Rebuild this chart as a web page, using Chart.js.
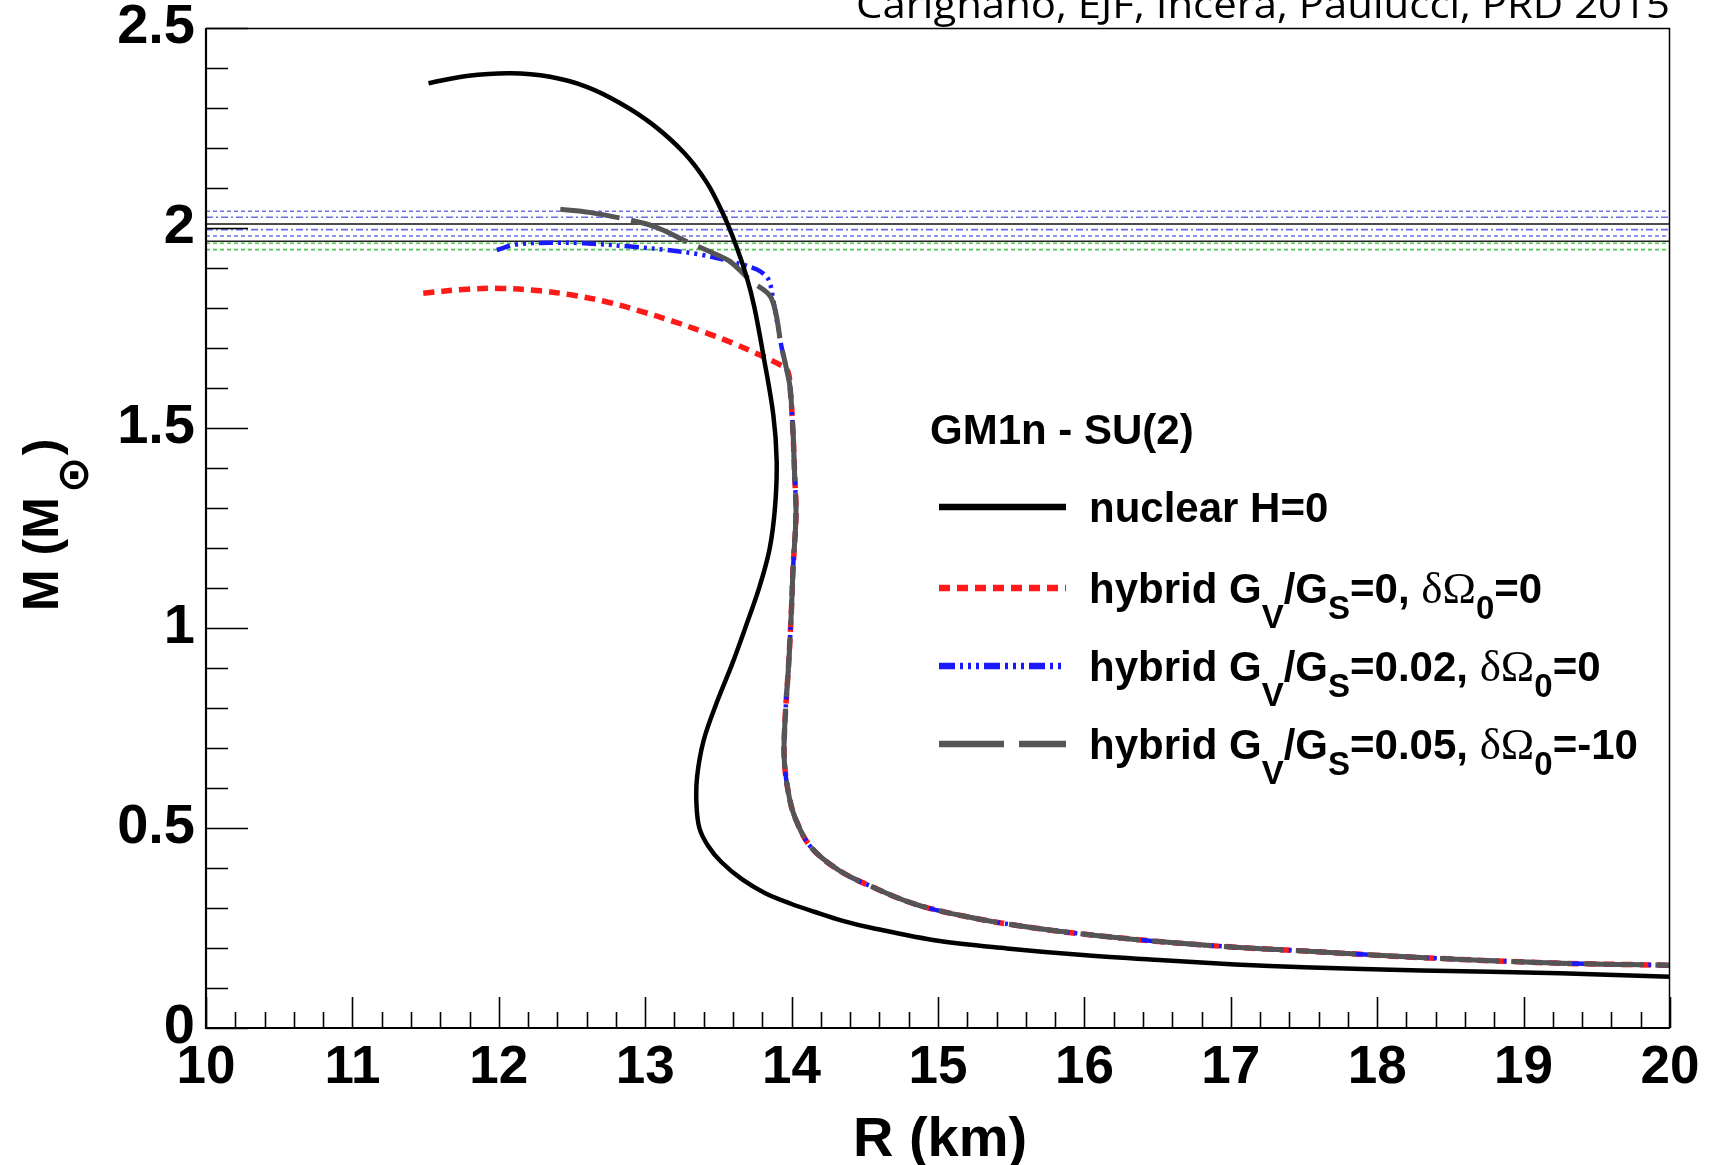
<!DOCTYPE html>
<html><head><meta charset="utf-8">
<script src="https://cdn.jsdelivr.net/npm/chart.js@4.4.1/dist/chart.umd.min.js"></script>
<style>html,body{margin:0;padding:0;background:#fff;overflow:hidden}</style>
</head><body>
<canvas id="c" width="1716" height="1165"></canvas>
<script>
// ---------------- data ----------------
const xMajorTicks = [10, 11, 12, 13, 14, 15, 16, 17, 18, 19, 20];
const yMajorTicks = [0, 0.5, 1, 1.5, 2, 2.5];

const nuclearR = [11.52, 11.78, 12.08, 12.35, 12.60, 12.83, 13.05, 13.265, 13.42, 13.53, 13.615, 13.693, 13.745, 13.81, 13.875, 13.898, 13.887, 13.85, 13.78, 13.69, 13.595, 13.49, 13.40, 13.355, 13.35, 13.37, 13.43, 13.52, 13.66, 13.82, 14.0, 14.16, 14.35, 14.55, 15.0, 15.47, 15.99, 16.51, 17.03, 17.5, 18.3, 19.25, 20.0];
const nuclearM = [2.362, 2.380, 2.387, 2.378, 2.353, 2.312, 2.259, 2.188, 2.114, 2.037, 1.962, 1.878, 1.803, 1.676, 1.533, 1.418, 1.303, 1.198, 1.102, 1.007, 0.911, 0.815, 0.720, 0.630, 0.560, 0.500, 0.455, 0.415, 0.372, 0.337, 0.310, 0.290, 0.268, 0.250, 0.218, 0.199, 0.1825, 0.170, 0.159, 0.152, 0.144, 0.137, 0.128];

const hybridG0R = [11.484, 11.78, 12.01, 12.28, 12.51, 12.74, 12.96, 13.18, 13.40, 13.60, 13.78, 13.90, 13.97, 13.99, 14.01, 14.02, 14.03, 14.01, 14.0, 13.98, 13.955, 13.95, 13.985, 14.03, 14.13, 14.32, 14.55, 14.84, 15.2, 15.6, 15.99, 16.51, 17.03, 17.47, 18.3, 19.25, 20.0];
const hybridG0M = [1.837, 1.847, 1.849, 1.843, 1.832, 1.815, 1.793, 1.768, 1.740, 1.712, 1.683, 1.662, 1.645, 1.60, 1.485, 1.39, 1.284, 1.15, 1.055, 0.911, 0.768, 0.67, 0.575, 0.52, 0.453, 0.395, 0.353, 0.31, 0.278, 0.253, 0.235, 0.216, 0.202, 0.193, 0.176, 0.162, 0.157];

const hybridG002R = [11.986, 12.12, 12.35, 12.58, 12.92, 13.15, 13.37, 13.60, 13.76, 13.83, 13.855, 13.87, 13.93, 13.965, 13.99, 14.01, 14.02, 14.03, 14.01, 14.0, 13.98, 13.955, 13.95, 13.985, 14.03, 14.13, 14.32, 14.55, 14.84, 15.2, 15.6, 15.99, 16.51, 17.03, 17.47, 18.3, 19.25, 20.0];
const hybridG002M = [1.945, 1.959, 1.963, 1.962, 1.953, 1.945, 1.934, 1.915, 1.897, 1.878, 1.858, 1.830, 1.705, 1.648, 1.60, 1.485, 1.39, 1.284, 1.15, 1.055, 0.911, 0.768, 0.67, 0.575, 0.52, 0.453, 0.395, 0.353, 0.31, 0.278, 0.253, 0.235, 0.216, 0.202, 0.193, 0.176, 0.162, 0.157];

const hybridG005R = [12.42, 12.62, 12.99, 13.12, 13.26, 13.44, 13.58, 13.72, 13.86, 13.93, 13.965, 13.99, 14.01, 14.02, 14.03, 14.01, 14.0, 13.98, 13.955, 13.95, 13.985, 14.03, 14.13, 14.32, 14.55, 14.84, 15.2, 15.6, 15.99, 16.51, 17.03, 17.47, 18.3, 19.25, 20.0];
const hybridG005M = [2.047, 2.039, 2.012, 1.995, 1.970, 1.941, 1.916, 1.868, 1.826, 1.705, 1.648, 1.60, 1.485, 1.39, 1.284, 1.15, 1.055, 0.911, 0.768, 0.67, 0.575, 0.52, 0.453, 0.395, 0.353, 0.31, 0.278, 0.253, 0.235, 0.216, 0.202, 0.193, 0.176, 0.162, 0.157];

// horizontal observational mass bands (2 M_sun pulsars)
const bandM = [2.042, 2.027, 2.010, 1.996, 1.980, 1.962, 1.967, 1.946];
const bandR = [10, 20];

const citation = 'Carignano, EJF, Incera, Paulucci, PRD 2015';
const legendTitle = 'GM1n - SU(2)';
const legendEntries = [
  [{t: 'nuclear H=0'}],
  [{t: 'hybrid G'}, {t: 'V', s: 2}, {t: '/G'}, {t: 'S', s: 1}, {t: '=0, '}, {t: 'δΩ', g: 1}, {t: '0', s: 1}, {t: '=0'}],
  [{t: 'hybrid G'}, {t: 'V', s: 2}, {t: '/G'}, {t: 'S', s: 1}, {t: '=0.02, '}, {t: 'δΩ', g: 1}, {t: '0', s: 1}, {t: '=0'}],
  [{t: 'hybrid G'}, {t: 'V', s: 2}, {t: '/G'}, {t: 'S', s: 1}, {t: '=0.05, '}, {t: 'δΩ', g: 1}, {t: '0', s: 1}, {t: '=-10'}]
];
const xTitle = 'R (km)';

// ---------------- styles ----------------
const BLUE = 'rgba(60,60,225,0.75)';
const GREEN = 'rgba(50,190,50,0.85)';
const bandStyles = [
  {c: BLUE, d: [4, 3], w: 1.6},
  {c: BLUE, d: [7, 3, 2, 3], w: 1.6},
  {c: '#111', d: [], w: 1.6},
  {c: BLUE, d: [7, 3, 2, 3], w: 1.6},
  {c: BLUE, d: [4, 3], w: 1.6},
  {c: GREEN, d: [4, 3], w: 1.6},
  {c: '#222', d: [], w: 1.6},
  {c: GREEN, d: [4, 3], w: 1.6}
];
const curveStyles = [
  {c: '#000000', d: [], w: 4.5},
  {c: '#ff1a1a', d: [11, 7], w: 5.5},
  {c: '#1a1aff', d: [14, 5, 3, 5, 3, 5, 3, 5], w: 4.5},
  {c: '#555555', d: [60, 12], w: 5}
];

function pts(xs, ys) { return xs.map((x, i) => ({x: x, y: ys[i]})); }

const datasets = [];
const curves = [[nuclearR, nuclearM], [hybridG0R, hybridG0M], [hybridG002R, hybridG002M], [hybridG005R, hybridG005M]];
const curveOrder = [0, 3, 2, 1];
curves.forEach((cv, i) => {
  const st = curveStyles[i];
  datasets.push({
    data: pts(cv[0], cv[1]), showLine: true, borderColor: st.c, borderWidth: st.w,
    borderDash: st.d, pointRadius: 0, tension: 0.35, order: curveOrder[i], borderCapStyle: 'butt'
  });
});
bandM.forEach((m, i) => {
  const st = bandStyles[i];
  datasets.push({
    data: pts(bandR, [m, m]), showLine: true, borderColor: st.c, borderWidth: st.w,
    borderDash: st.d, pointRadius: 0, tension: 0, order: 10 + i
  });
});

function isMajor(v, list) { return list.some(t => Math.abs(t - v) < 1e-6); }

const AREA = {left: 206, right: 1670, top: 28, bottom: 1028};

function drawRich(ctx, parts, x, y, size) {
  let cx = x;
  for (const p of parts) {
    let fs = size, dy = 0;
    if (p.s) { fs = size * 0.78; dy = p.s === 2 ? size * 0.6 : size * 0.38; }
    ctx.font = p.g ? `${Math.round(fs * 1.08)}px 'Liberation Serif'` : `bold ${Math.round(fs)}px 'Liberation Sans'`;
    ctx.fillText(p.t, cx, y + dy);
    cx += ctx.measureText(p.t).width;
  }
  return cx;
}

const decor = {
  id: 'decor',
  afterDraw(chart) {
    const ctx = chart.ctx;
    const xs = chart.scales.x, ys = chart.scales.y;
    const a = chart.chartArea;
    ctx.save();
    ctx.strokeStyle = '#000';
    ctx.fillStyle = '#000';
    // ticks
    ctx.lineWidth = 1.6;
    ctx.beginPath();
    ys.ticks.forEach(t => {
      const py = Math.round(ys.getPixelForValue(t.value)) + 0.5;
      const len = isMajor(t.value, yMajorTicks) ? 42 : 22;
      ctx.moveTo(a.left, py); ctx.lineTo(a.left + len, py);
    });
    xs.ticks.forEach(t => {
      const px = Math.round(xs.getPixelForValue(t.value)) + 0.5;
      const len = isMajor(t.value, xMajorTicks) ? 31 : 16;
      ctx.moveTo(px, a.bottom); ctx.lineTo(px, a.bottom - len);
    });
    ctx.stroke();
    // frame
    ctx.lineWidth = 1.5;
    ctx.beginPath();
    ctx.moveTo(a.left, a.top + 0.5); ctx.lineTo(a.right - 0.5, a.top + 0.5); ctx.lineTo(a.right - 0.5, a.bottom);
    ctx.stroke();
    ctx.lineWidth = 2.2;
    ctx.beginPath();
    ctx.moveTo(a.left, a.top); ctx.lineTo(a.left, a.bottom); ctx.lineTo(a.right, a.bottom);
    ctx.stroke();

    // x tick labels
    ctx.font = "bold 53px 'Liberation Sans'";
    ctx.textAlign = 'center';
    ctx.textBaseline = 'alphabetic';
    xMajorTicks.forEach(v => {
      ctx.fillText(String(v), xs.getPixelForValue(v), a.bottom + 55);
    });

    // citation (cut at top like the reference)
    ctx.font = "39px 'Open Sans'";
    ctx.textBaseline = 'alphabetic';
    const cw = ctx.measureText(citation).width;
    const sx = 814 / cw;
    ctx.save();
    ctx.translate(1670 - 814, 18);
    ctx.scale(sx, 1);
    ctx.textAlign = 'left';
    ctx.fillText(citation, 0, 0);
    ctx.restore();

    // legend
    ctx.textAlign = 'left';
    ctx.textBaseline = 'alphabetic';
    ctx.font = "bold 42px 'Liberation Sans'";
    ctx.fillText(legendTitle, 930, 444);
    const ly = [507, 588, 666, 744];
    legendEntries.forEach((parts, i) => {
      const st = curveStyles[i];
      ctx.save();
      ctx.strokeStyle = st.c;
      ctx.lineWidth = 6.5;
      ctx.setLineDash(i === 3 ? [65, 15] : (i === 2 ? [16, 5, 3, 5, 3, 5, 3, 5] : st.d));
      ctx.lineCap = 'butt';
      ctx.beginPath(); ctx.moveTo(939, ly[i]); ctx.lineTo(1066, ly[i]); ctx.stroke();
      ctx.restore();
      drawRich(ctx, parts, 1089, ly[i] + 15, 42);
    });

    // x title
    ctx.font = "bold 56px 'Liberation Sans'";
    ctx.textAlign = 'center';
    ctx.fillText(xTitle, 940, 1156);

    // y title, rotated, with sun subscript
    ctx.save();
    ctx.translate(58, 611);
    ctx.rotate(-Math.PI / 2);
    ctx.textAlign = 'left';
    ctx.font = "bold 50px 'Liberation Sans'";
    let cx = 0;
    ctx.fillText('M (M', cx, 0); cx += ctx.measureText('M (M').width + 4;
    ctx.font = "bold 44px 'DejaVu Sans'";
    ctx.fillText('\u2299', cx, 30); cx += ctx.measureText('\u2299').width + 1;
    ctx.font = "bold 50px 'Liberation Sans'";
    ctx.fillText(')', cx, 0);
    ctx.restore();

    ctx.restore();
  }
};

Chart.defaults.font.family = "'Liberation Sans', Arial, sans-serif";
Chart.defaults.color = '#000';

new Chart(document.getElementById('c'), {
  type: 'scatter',
  data: {datasets: datasets},
  options: {
    responsive: false,
    animation: false,
    devicePixelRatio: 1,
    layout: {padding: {left: 0, right: 1716 - AREA.right, top: AREA.top, bottom: 0}},
    plugins: {legend: {display: false}, tooltip: {enabled: false}},
    scales: {
      x: {
        type: 'linear', min: 10, max: 20,
        grid: {display: false, drawTicks: false},
        border: {display: false},
        ticks: {
          stepSize: 0.2, autoSkip: false, maxRotation: 0, padding: 0,
          font: {size: 10, lineHeight: 0.1},
          callback: () => ''
        },
        afterFit: s => { s.height = 1165 - AREA.bottom; }
      },
      y: {
        type: 'linear', min: 0, max: 2.5,
        grid: {display: false, drawTicks: false},
        border: {display: false},
        ticks: {
          stepSize: 0.1, autoSkip: false, padding: 11,
          font: {size: 56, weight: 'bold', lineHeight: 0.1},
          callback: v => isMajor(v, yMajorTicks) ? String(Math.round(v * 10) / 10) : ''
        },
        afterFit: s => { s.width = AREA.left; }
      }
    }
  },
  plugins: [decor]
});
</script>
</body></html>
